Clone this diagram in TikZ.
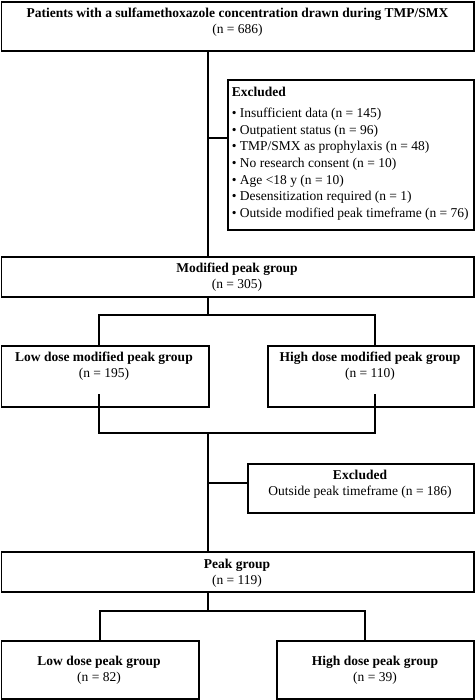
\documentclass[tikz,border=0pt]{standalone}
\usepackage{fontspec}
\setmainfont{Liberation Serif}
\usetikzlibrary{positioning}

\begin{document}
\begin{tikzpicture}[x=1pt, y=-1pt, line width=1.6pt,
    every node/.style={font=\fontsize{13.5}{15.7}\selectfont},
    box/.style={draw, rectangle, inner sep=0pt, anchor=north west},
    lbl/.style={align=center, inner sep=0pt}]
    \useasboundingbox (0,0) rectangle (474,700);

    % boxes
    \node[box, minimum width=472.6pt, minimum height=49pt] (top) at (0.8,1) {};
    \node[box, minimum width=246.2pt, minimum height=150pt] (exc1) at (227,79) {};
    \node[box, minimum width=472.6pt, minimum height=40pt] (mod) at (0.8,256) {};
    \node[box, minimum width=207.2pt, minimum height=61pt] (lowmod) at (0.8,345) {};
    \node[box, minimum width=206.2pt, minimum height=61pt] (highmod) at (267,345) {};
    \node[box, minimum width=226.2pt, minimum height=49pt] (exc2) at (247,463) {};
    \node[box, minimum width=472.6pt, minimum height=40pt] (peak) at (0.8,551) {};
    \node[box, minimum width=197.2pt, minimum height=58.4pt] (lowpk) at (0.8,640) {};
    \node[box, minimum width=197.2pt, minimum height=58.4pt] (highpk) at (276,640) {};

    % texts
    \node[lbl] (ttop) at (237.5,22.1) {\textbf{Patients with a sulfamethoxazole concentration drawn during TMP/SMX}\\(n = 686)};
    \node[align=left, inner sep=0pt, anchor=north west,
          font=\fontsize{13.5}{16.67}\selectfont] (texc1) at (231,86.5)
        {\textbf{Excluded}\\[4.3pt]
         • Insufficient data (n = 145)\\
         • Outpatient status (n = 96)\\
         • TMP/SMX as prophylaxis (n = 48)\\
         • No research consent (n = 10)\\
         • Age <18 y (n = 10)\\
         • Desensitization required (n = 1)\\
         • Outside modified peak timeframe (n = 76)};
    \node[lbl] (tmod) at (237,277.5) {\textbf{Modified peak group}\\(n = 305)};
    \node[lbl] (tlowmod) at (104,366.2) {\textbf{Low dose modified peak group}\\(n = 195)};
    \node[lbl] (thighmod) at (370,366.2) {\textbf{High dose modified peak group}\\(n = 110)};
    \node[lbl] (texc2) at (360,484.5) {\textbf{Excluded}\\Outside peak timeframe (n = 186)};
    \node[lbl] (tpeak) at (237,573.1) {\textbf{Peak group}\\(n = 119)};
    \node[lbl] (tlowpk) at (99,670.3) {\textbf{Low dose peak group}\\(n = 82)};
    \node[lbl] (thighpk) at (375,670.3) {\textbf{High dose peak group}\\(n = 39)};

    % trunk and first exclusion
    \coordinate (j1) at (208,138);
    \draw (top.south -| j1) -- (mod.north -| j1);
    \draw (j1) -- (exc1.west |- j1);

    % split into dose groups
    \coordinate (s1) at (208,315);
    \coordinate (s1l) at (99,315);
    \coordinate (s1r) at (375,315);
    \draw (mod.south -| s1) -- (s1);
    \draw (s1l |- lowmod.north) -- (s1l) -- (s1r) -- (s1r |- highmod.north);

    % merge back
    \coordinate (m1l) at (99,394);
    \coordinate (m1r) at (375,394);
    \coordinate (m1) at (208,433);
    \draw (m1l) -- (m1l |- m1) -- (m1r |- m1) -- (m1r);
    \coordinate (j2) at (208,483);
    \draw (m1) -- (peak.north -| m1);
    \draw (j2) -- (exc2.west |- j2);

    % split peak group
    \coordinate (s2) at (208,611);
    \coordinate (s2r) at (365,611);
    \draw (peak.south -| s2) -- (s2);
    \draw (lowpk.north) |- (s2r) -- (s2r |- highpk.north);
\end{tikzpicture}
\end{document}
